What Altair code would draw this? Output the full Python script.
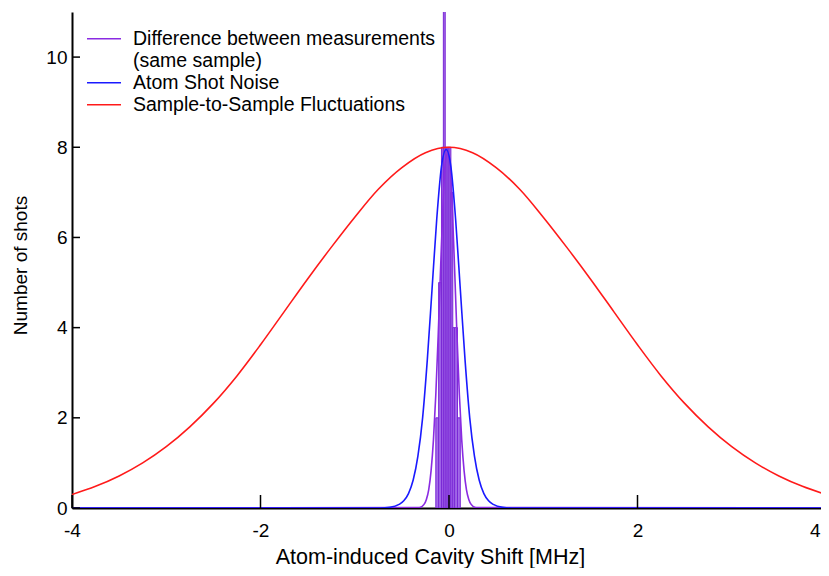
import altair as alt
import pandas as pd

# ---- data ----
red_x = [-4.0, -3.75, -3.5, -3.25, -3.0, -2.75, -2.5, -2.25, -2.0, -1.75, -1.5, -1.25, -1.0, -0.75, -0.5, -0.25,
         0.0, 0.25, 0.5, 0.75, 1.0, 1.25, 1.5, 1.75, 2.0, 2.25, 2.5, 2.75, 3.0, 3.25, 3.5, 3.75, 4.0]
red_y = [0.30, 0.48, 0.71, 1.00, 1.36, 1.80, 2.32, 2.93, 3.62, 4.35, 5.08, 5.78, 6.45, 7.07, 7.55, 7.88,
         8.00, 7.88, 7.55, 7.07, 6.45, 5.78, 5.08, 4.35, 3.62, 2.93, 2.32, 1.80, 1.36, 1.00, 0.71, 0.48, 0.30]

blue_x = [-4.0, -0.73, -0.63, -0.53, -0.48, -0.43, -0.38, -0.33, -0.28, -0.23, -0.18, -0.13, -0.08, -0.03,
          0.02, 0.07, 0.12, 0.17, 0.22, 0.27, 0.32, 0.37, 0.42, 0.47, 0.57, 0.67, 4.0]
blue_y = [0.0, 0.0, 0.015, 0.08, 0.16, 0.32, 0.62, 1.15, 2.00, 3.29, 4.85, 6.41, 7.57, 7.95,
          7.57, 6.41, 4.85, 3.29, 2.00, 1.15, 0.62, 0.32, 0.16, 0.08, 0.015, 0.0, 0.0]

purple_x = [-4.0, -0.315, -0.265, -0.24, -0.215, -0.19, -0.165, -0.14, -0.115, -0.09, -0.065, -0.04, -0.015,
            0.01, 0.035, 0.06, 0.085, 0.11, 0.135, 0.16, 0.185, 0.21, 0.235, 0.285, 4.0]
purple_y = [0.0, 0.01, 0.08, 0.19, 0.41, 0.83, 1.51, 2.51, 3.81, 5.27, 6.65, 7.64, 7.85,
            7.64, 6.65, 5.27, 3.81, 2.51, 1.51, 0.83, 0.41, 0.19, 0.08, 0.01, 0.0]

hist_start = [-0.14, -0.11, -0.08, -0.06, -0.04, -0.02, 0.00, 0.02, 0.04, 0.06, 0.09]
hist_end = [-0.11, -0.08, -0.06, -0.04, -0.02, 0.00, 0.02, 0.04, 0.06, 0.09, 0.12]
hist_count = [2, 5, 8, 12, 8, 8, 8, 7, 4, 4, 2]

series_names = ["Difference between measurements", "Atom Shot Noise", "Sample-to-Sample Fluctuations"]
series_colors = ["#8a2be2", "#1a1aff", "#ff1a1a"]
legend_entries = ["Difference between measurements", "(same sample)", "Atom Shot Noise",
                  "Sample-to-Sample Fluctuations"]
legend_colors = ["#8a2be2", "transparent", "#1a1aff", "#ff1a1a"]
x_ticks = [-4, -2, 0, 2, 4]
y_ticks = [0, 2, 4, 6, 8, 10]

FONT = "Liberation Sans"
W, H = 754, 496

xscale = alt.Scale(domain=[-4, 4], nice=False, zero=False)
yscale = alt.Scale(domain=[0, 11], nice=False, zero=False)

x_axis = alt.Axis(values=x_ticks, labelExpr="'' + datum.value", ticks=False, grid=False,
                  domainColor="black", domainWidth=2, labelFont=FONT, labelFontSize=19,
                  labelColor="black", labelPadding=13, labelFlush=False,
                  labelAlign={"condition": {"test": "datum.value == 4", "value": "right"}, "value": "center"},
                  labelOffset={"condition": {"test": "datum.value == 4", "value": -6}, "value": 0},
                  title="Atom-induced Cavity Shift [MHz]", titleFont=FONT, titleFontSize=21.5,
                  titleFontWeight="normal", titleColor="black", titleX=358, titleY=55,
                  titleBaseline="alphabetic", titleAnchor="middle", titleAlign="center")
y_axis = alt.Axis(values=y_ticks, labelExpr="'' + datum.value", ticks=False, grid=False,
                  domainColor="black", domainWidth=2, labelFont=FONT, labelFontSize=19,
                  labelColor="black", labelPadding=5,
                  title="Number of shots", titleFont=FONT, titleFontSize=19,
                  titleFontWeight="normal", titleColor="black", titleX=-46, titleY=253,
                  titleBaseline="alphabetic", titleAlign="center", titleAngle=270)

color_scale = alt.Scale(domain=legend_entries, range=legend_colors)
legend = alt.Legend(orient="none", legendX=14, legendY=16, title=None, symbolType="stroke",
                    symbolSize=1156, symbolStrokeWidth=1.5, labelFont=FONT, labelFontSize=19.5,
                    labelColor="black", labelOffset=11, padding=0, rowPadding=0, labelLimit=0,
                    clipHeight=21.5)

hist_df = pd.DataFrame({"x": hist_start, "x2": hist_end, "y": hist_count})
hist = alt.Chart(hist_df).mark_rect(clip=True, fill="#a36ae8", stroke="#7a28d6", strokeWidth=1).encode(
    x=alt.X("x:Q", scale=xscale, axis=x_axis),
    x2="x2:Q",
    y=alt.Y("y:Q", scale=yscale, axis=y_axis),
    y2=alt.datum(0),
)


def curve(xs, ys, name, interp):
    df = pd.DataFrame({"x": xs, "y": ys, "series": [name] * len(xs)})
    return alt.Chart(df).mark_line(interpolate=interp, strokeWidth=1.6, clip=True).encode(
        x=alt.X("x:Q", scale=xscale, axis=x_axis),
        y=alt.Y("y:Q", scale=yscale, axis=y_axis),
        color=alt.Color("series:N", scale=color_scale, legend=legend),
    )


purple = curve(purple_x, purple_y, series_names[0], "monotone")
blue = curve(blue_x, blue_y, series_names[1], "monotone")
red = curve(red_x, red_y, series_names[2], "catmull-rom")

xt = alt.Chart(pd.DataFrame({"t": x_ticks})).mark_rule(color="black", strokeWidth=1.5).encode(
    x=alt.X("t:Q", scale=xscale, axis=x_axis), y=alt.value(H), y2=alt.value(H - 13))
yt = alt.Chart(pd.DataFrame({"t": y_ticks})).mark_rule(color="black", strokeWidth=1.5).encode(
    y=alt.Y("t:Q", scale=yscale, axis=y_axis), x=alt.value(0), x2=alt.value(8))

chart = alt.layer(hist, purple, blue, red, xt, yt).properties(
    width=W, height=H,
    autosize=alt.AutoSizeParams(type="none"),
    padding={"left": 64, "top": 4, "right": -5, "bottom": 60},
    background="white",
).configure_view(stroke=None)

chart.save("out.html", embed_options={"renderer": "svg", "actions": False})
